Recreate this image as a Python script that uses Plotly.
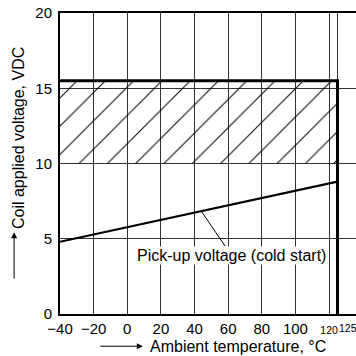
import plotly.graph_objects as go

# ---- data ----
temp_ticks = [-40, -20, 0, 20, 40, 60, 80, 100, 120, 125]
temp_labels = ["\u221240", "\u221220", "0", "20", "40", "60", "80", "100",
               "120", "125"]
small_labels = {"120", "125"}   # drawn in a smaller font in the reference
volt_ticks = [0, 5, 10, 15, 20]
volt_labels = ["0", "5", "10", "15", "20"]

temp_min = -40
temp_max = 125
band_low = 10.0       # lower edge of hatched operating band
band_high = 15.5      # max applied voltage
pickup_temp = [-40, 125]
pickup_volt = [4.8, 8.8]
pickup_label = "Pick-up voltage (cold start)"
label_temp = 44       # where the leader line touches the pick-up line

FONT = "Liberation Sans, Arial, sans-serif"
SMALL = 10.5

# last tick label is placed beside its tick (as in the reference) via an annotation
tick_text = []
for i, t in enumerate(temp_labels):
    if i == len(temp_labels) - 1:
        tick_text.append("")
    elif t in small_labels:
        tick_text.append("<span style='font-size:%spx'>%s</span>" % (SMALL, t))
    else:
        tick_text.append(t)

fig = go.Figure()

# hatched band
fig.add_trace(go.Scatter(
    x=[temp_min, temp_max, temp_max, temp_min, temp_min],
    y=[band_low, band_low, band_high, band_high, band_low],
    mode="lines", line=dict(width=0, color="rgba(0,0,0,0)"),
    fill="toself", fillcolor="rgba(0,0,0,0)",
    fillpattern=dict(shape="/", fgcolor="black", fgopacity=1,
                     bgcolor="rgba(0,0,0,0)",
                     size=20, solidity=0.05, fillmode="overlay"),
    hoverinfo="skip", showlegend=False))

# max voltage / max temperature boundary
fig.add_trace(go.Scatter(
    x=[temp_min, temp_max, temp_max],
    y=[band_high, band_high, 0],
    mode="lines", line=dict(color="black", width=3),
    showlegend=False, hoverinfo="skip"))

# pick-up voltage line
fig.add_trace(go.Scatter(
    x=pickup_temp, y=pickup_volt,
    mode="lines", line=dict(color="black", width=2.2),
    showlegend=False, hoverinfo="skip"))

label_volt = pickup_volt[0] + (label_temp - pickup_temp[0]) * \
    (pickup_volt[1] - pickup_volt[0]) / (pickup_temp[1] - pickup_temp[0])

fig.add_annotation(
    x=label_temp, y=label_volt, xref="x", yref="y",
    text=pickup_label, showarrow=True, arrowhead=0, arrowwidth=1,
    arrowcolor="black", ax=30, ay=44, bgcolor="white", borderpad=0,
    font=dict(family=FONT, size=16, color="black"))

# "125" tick label, set just right of its tick
fig.add_annotation(
    x=temp_ticks[-1], y=0, xref="x", yref="paper",
    xanchor="left", yanchor="top", xshift=0, yshift=-7,
    text=temp_labels[-1], showarrow=False, borderpad=0,
    font=dict(family=FONT, size=SMALL, color="black"))

# axis titles with leading arrows
fig.add_annotation(
    x=-0.14, y=0.583, xref="paper", yref="paper",
    xanchor="center", yanchor="middle",
    text="Coil applied voltage, VDC", textangle=-90, showarrow=False,
    font=dict(family=FONT, size=16, color="black"))
fig.add_annotation(
    x=-0.155, y=0.272, xref="paper", yref="paper", ax=0, ay=48,
    text="", showarrow=True, arrowhead=2, arrowsize=1.2, arrowwidth=1,
    arrowcolor="black")
fig.add_annotation(
    x=0.6, y=-0.107, xref="paper", yref="paper",
    xanchor="center", yanchor="middle",
    text="Ambient temperature, \u00b0C", showarrow=False,
    font=dict(family=FONT, size=16, color="black"))
fig.add_annotation(
    x=0.28, y=-0.107, xref="paper", yref="paper", ax=-44, ay=0,
    text="", showarrow=True, arrowhead=2, arrowsize=1.2, arrowwidth=1,
    arrowcolor="black")

fig.update_xaxes(
    range=[temp_min, 136], tickvals=temp_ticks, ticktext=tick_text,
    tickangle=0,
    showgrid=True, gridcolor="#333", gridwidth=1, zeroline=False,
    showline=True, linecolor="black", linewidth=2, mirror=True,
    ticks="", ticklabelstandoff=0,
    tickfont=dict(family=FONT, size=15, color="black"))
fig.update_yaxes(
    range=[0, 20], tickvals=volt_ticks, ticktext=volt_labels,
    showgrid=True, gridcolor="#333", gridwidth=1, zeroline=False,
    showline=True, linecolor="black", linewidth=2,
    ticks="", ticklabelstandoff=3,
    tickfont=dict(family=FONT, size=15, color="black"))

fig.update_layout(
    width=356, height=356,
    margin=dict(l=60, r=0, t=13, b=42),
    plot_bgcolor="white", paper_bgcolor="white",
    showlegend=False)

fig.write_html("out.html")
